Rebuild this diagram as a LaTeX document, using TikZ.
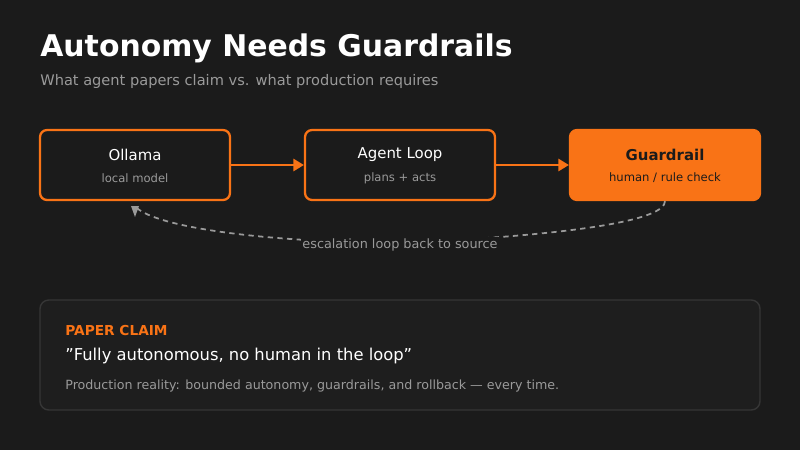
\documentclass[tikz,border=0pt]{standalone}
\usepackage{fontspec}
\setmainfont{DejaVu Sans}
\usetikzlibrary{arrows.meta}
\definecolor{bgc}{HTML}{1B1B1B}
\definecolor{orng}{HTML}{F97316}
\definecolor{mute}{HTML}{9A9A9A}
\definecolor{panel}{HTML}{1E1E1E}
\definecolor{edgec}{HTML}{363636}
\begin{document}
\begin{tikzpicture}[x=0.02cm,y=-0.02cm]
  \tikzset{
    box/.style={draw=orng,line width=1.3pt,rounded corners=4pt,minimum width=3.8cm,minimum height=1.4cm,fill=bgc},
    hot/.style={box,fill=orng},
    flow/.style={draw=orng,line width=1.2pt,-{Triangle[length=6pt,width=7pt]}},
    ttl/.style={text=white,font=\fontsize{8.5}{10}\selectfont},
    sub/.style={text=mute,font=\fontsize{6.6}{8}\selectfont}
  }
  \fill[bgc] (0,0) rectangle (800,450);
  \useasboundingbox (0,0) rectangle (800,450);

  \node[anchor=base west,text=white,font=\fontsize{17}{20}\selectfont\bfseries,inner sep=0] (title) at (40,56) {Autonomy Needs Guardrails};
  \node[anchor=base west,text=mute,font=\fontsize{8.3}{10}\selectfont,inner sep=0] (subtitle) at (40,85) {What agent papers claim vs. what production requires};

  \node[box] (ollama) at (135,165) {};
  \node[box] (loop) at (400,165) {};
  \node[hot] (guard) at (665,165) {};
  \node[ttl] at (135,155) {Ollama};
  \node[sub] at (135,178) {local model};
  \node[ttl] at (400,155) {Agent Loop};
  \node[sub] at (400,178) {plans + acts};
  \node[ttl,text=bgc,font=\fontsize{8.5}{10}\selectfont\bfseries] at (665,155) {Guardrail};
  \node[sub,text=bgc] at (665,178) {human / rule check};

  \draw[flow] (ollama) -- (loop);
  \draw[flow] (loop) -- (guard);

  % escalation back to source
  \coordinate (back) at (135,206);
  \draw[mute,line width=1pt,dash pattern=on 3pt off 2.5pt] (guard.south) .. controls (665,240) and (300,245) .. (400,243) .. controls (250,242) and (150,225) .. (back);
  \fill[mute] (back) ++(-4,0) -- ++(8,0) -- (135,217) -- cycle;
  \node[sub,text=mute,font=\fontsize{7.3}{9}\selectfont,fill=bgc,inner sep=1pt] (esc) at (400,245) {escalation loop back to source};

  \draw[edgec,fill=panel,line width=0.8pt,rounded corners=5pt] (40,300) rectangle (760,410);
  \node[anchor=base west,text=orng,font=\fontsize{7.8}{9}\selectfont\bfseries,inner sep=0] (claim) at (65,335) {PAPER CLAIM};
  \node[anchor=base west,text=white,font=\fontsize{9.3}{11}\selectfont,inner sep=0] (quote) at (65,360) {"Fully autonomous, no human in the loop"};
  \node[anchor=base west,text=mute,font=\fontsize{7.2}{9}\selectfont,inner sep=0] (real) at (65,389) {Production reality: bounded autonomy, guardrails, and rollback — every time.};
\end{tikzpicture}
\end{document}
